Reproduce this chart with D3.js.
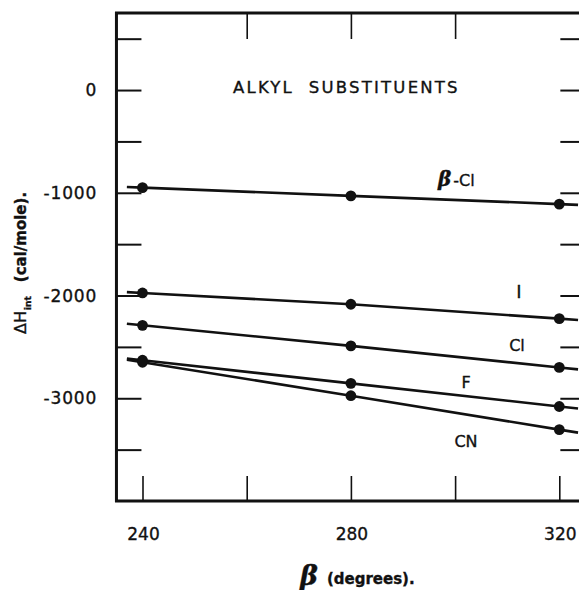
<!DOCTYPE html>
<html>
<head>
<meta charset="utf-8">
<script src="https://cdn.jsdelivr.net/npm/d3@7"></script>
<style>
  html, body { margin: 0; padding: 0; background: #fff; }
  svg { display: block; }
  text { font-family: "DejaVu Sans", "Liberation Sans", sans-serif; fill: #111; stroke: #111; stroke-width: 0.35; }
</style>
</head>
<body>
<svg id="chart" width="579" height="590"></svg>
<script>
// ---- data ----
const betaValues = [240, 280, 320];
const seriesNames = ["β-Cl", "I", "Cl", "F", "CN"];
const betaCl = [-950, -1030, -1110];
const iodo   = [-1975, -2085, -2225];
const chloro = [-2290, -2490, -2700];
const fluoro = [-2630, -2855, -3080];
const cyano  = [-2650, -2975, -3305];
const yTickLabels = [0, -1000, -2000, -3000];
const xTickLabels = [240, 280, 320];
const yMinorTicks = [500, 0, -500, -1000, -1500, -2000, -2500, -3000, -3500];
const xBottomTicks = [240, 260, 280, 300, 320];
const xTopTicks = [260, 280, 300];

const seriesValues = [betaCl, iodo, chloro, fluoro, cyano];

const svg = d3.select("#chart");
const x = d3.scaleLinear().domain([235, 325]).range([116.45, 585.35]);
const y = d3.scaleLinear().domain([-4000, 750]).range([501, 13]);

const ink = "#111";

// frame
const x0 = x.range()[0], x1 = x.range()[1], yTop = y.range()[1], yBot = y.range()[0];
svg.append("path")
  .attr("d", `M${x1},${yTop}H${x0}V${yBot}H${x1}`)
  .attr("fill", "none").attr("stroke", ink).attr("stroke-width", 3);

// y ticks (left & right, inward)
const tickLen = 25;
svg.append("g").attr("transform", `translate(${x0},0)`)
  .call(d3.axisRight(y).tickValues(yMinorTicks).tickSize(tickLen).tickFormat(""))
  .call(g => g.select(".domain").remove())
  .call(g => g.selectAll("line").attr("stroke", ink).attr("stroke-width", 2));
svg.append("g").attr("transform", `translate(${x1},0)`)
  .call(d3.axisLeft(y).tickValues(yMinorTicks).tickSize(tickLen).tickFormat(""))
  .call(g => g.select(".domain").remove())
  .call(g => g.selectAll("line").attr("stroke", ink).attr("stroke-width", 2));

// x ticks (bottom & top, inward)
svg.append("g").attr("transform", `translate(0,${yBot})`)
  .call(d3.axisTop(x).tickValues(xBottomTicks).tickSize(tickLen).tickFormat(""))
  .call(g => g.select(".domain").remove())
  .call(g => g.selectAll("line").attr("stroke", ink).attr("stroke-width", 1.6));
svg.append("g").attr("transform", `translate(0,${yTop})`)
  .call(d3.axisBottom(x).tickValues(xTopTicks).tickSize(26).tickFormat(""))
  .call(g => g.select(".domain").remove())
  .call(g => g.selectAll("line").attr("stroke", ink).attr("stroke-width", 1.6));

// y tick labels
svg.append("g").selectAll("text").data(yTickLabels).join("text")
  .attr("x", 97).attr("y", d => y(d) + 6)
  .attr("text-anchor", "end")
  .attr("font-size", 17)
  .attr("letter-spacing", 0.8)
  .text(d => d === 0 ? "0" : "-" + Math.abs(d));

// x tick labels
svg.append("g").selectAll("text").data(xTickLabels).join("text")
  .attr("x", d => x(d) + 1).attr("y", 540)
  .attr("text-anchor", "middle")
  .attr("font-size", 17)
  .text(d => d);

// series lines (extended slightly past the end points) and dots
const xLeft = 237, xRight = 323.6;
seriesValues.forEach((vals, i) => {
  const pts = betaValues.map((b, j) => [b, vals[j]]);
  const n = pts.length;
  const sL = (pts[1][1] - pts[0][1]) / (pts[1][0] - pts[0][0]);
  const sR = (pts[n-1][1] - pts[n-2][1]) / (pts[n-1][0] - pts[n-2][0]);
  const full = [[xLeft, pts[0][1] + sL * (xLeft - pts[0][0])], ...pts,
                [xRight, pts[n-1][1] + sR * (xRight - pts[n-1][0])]];
  svg.append("path")
    .datum(full)
    .attr("d", d3.line().x(d => x(d[0])).y(d => y(d[1])))
    .attr("fill", "none").attr("stroke", ink).attr("stroke-width", 2.6)
    .attr("stroke-linejoin", "round");
  svg.append("g").selectAll("circle").data(pts).join("circle")
    .attr("cx", d => x(d[0])).attr("cy", d => y(d[1])).attr("r", 5.4)
    .attr("fill", ink);
});

// title inside
svg.append("text")
  .attr("x", 233).attr("y", 93)
  .attr("font-size", 16.5).attr("letter-spacing", 2.2)
  .attr("xml:space", "preserve")
  .text("ALKYL  SUBSTITUENTS");

// series labels
const lbl = svg.append("g");
const bc = lbl.append("text").attr("x", 438).attr("y", 186);
bc.append("tspan").attr("font-family", "DejaVu Serif").attr("font-style", "italic")
  .attr("font-weight", "bold").attr("font-size", 20).text("β");
bc.append("tspan").attr("font-size", 16).attr("dx", 2).text("-Cl");
lbl.append("text").attr("x", 519).attr("y", 298).attr("text-anchor", "middle")
  .attr("font-family", "DejaVu Serif").attr("font-size", 18).text(seriesNames[1]);
lbl.append("text").attr("x", 517).attr("y", 351).attr("text-anchor", "middle")
  .attr("font-size", 16).text(seriesNames[2]);
lbl.append("text").attr("x", 466).attr("y", 388).attr("text-anchor", "middle")
  .attr("font-size", 16).text(seriesNames[3]);
lbl.append("text").attr("x", 466).attr("y", 447).attr("text-anchor", "middle")
  .attr("font-size", 16).text(seriesNames[4]);

// x axis title
const xt = svg.append("text").attr("x", 300).attr("y", 585);
xt.append("tspan").attr("font-family", "DejaVu Serif").attr("font-style", "italic")
  .attr("font-weight", "bold").attr("font-size", 27).text("β");
xt.append("tspan").attr("font-size", 15).attr("dx", 9).attr("font-weight", "bold")
  .attr("dy", -1).text("(degrees).");

// y axis title
const yt = svg.append("text").attr("transform", "translate(26,334) rotate(-90)");
yt.append("tspan").attr("font-size", 16).text("ΔH");
yt.append("tspan").attr("font-size", 9).attr("font-weight", "bold").attr("dy", 5).attr("dx", 1).text("int");
yt.append("tspan").attr("font-size", 15).attr("font-weight", "bold").attr("dy", -5).attr("dx", 14).text("(cal/mole).");
</script>
</body>
</html>
